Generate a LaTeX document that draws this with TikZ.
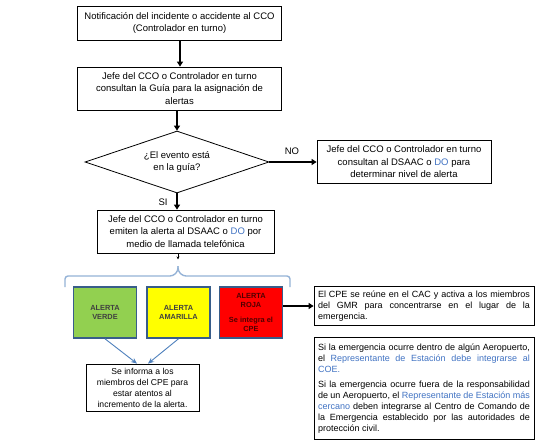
\documentclass[tikz,border=0pt]{standalone}
\usepackage{fontspec}
\setmainfont{Liberation Sans}
\usetikzlibrary{arrows.meta,shapes.geometric,calc}
\definecolor{linkblue}{RGB}{65,115,195}
\definecolor{bracecol}{RGB}{149,179,215}
\definecolor{arrblue}{RGB}{79,129,189}
\definecolor{boxborder}{RGB}{56,93,138}
\definecolor{agreen}{RGB}{146,208,80}
\definecolor{ayellow}{RGB}{255,255,0}
\definecolor{ared}{RGB}{255,0,0}
\definecolor{redtxt}{RGB}{80,0,0}
\tikzset{
  mainbox/.style={draw=black, line width=0.8pt, fill=white, align=center, inner sep=1pt,
    font=\fontsize{9.5}{12.5}\selectfont},
  txtbox/.style={draw=black, line width=0.8pt, fill=white, align=justify, inner sep=4pt,
    text width=212pt, font=\fontsize{9}{11}\selectfont},
  alertbox/.style={draw=boxborder, line width=1.6pt, minimum width=63pt, minimum height=51pt,
    inner sep=1pt, align=center, text=black!75, font=\fontsize{7.4}{9.5}\selectfont\bfseries},
  flow/.style={line width=1.8pt, -{Triangle[length=5pt,width=6pt]}},
  bluearr/.style={arrblue, line width=0.9pt, -{Stealth[length=6pt,width=5pt]}},
  lbl/.style={font=\fontsize{9.5}{11}\selectfont, inner sep=0pt}
}
\begin{document}
\begin{tikzpicture}[x=1pt,y=-1pt]
\useasboundingbox (0,0) rectangle (544,444);
\fill[white] (0,0) rectangle (544,444);

\node[mainbox, minimum width=204pt, minimum height=34pt] (b1) at (179.5,23)
  {Notificación del incidente o accidente al CCO\\(Controlador en turno)};
\node[mainbox, minimum width=204pt, minimum height=43pt] (b2) at (179.5,88.5)
  {Jefe del CCO o Controlador en turno\\consultan la Guía para la asignación de\\alertas};
\node[draw=black, line width=0.8pt, diamond, aspect=3, minimum width=184pt, minimum height=62pt,
  inner sep=0pt, align=center, font=\fontsize{9.5}{11.5}\selectfont] (d) at (177,162)
  {¿El evento está\\en la guía?};
\node[mainbox, minimum width=174pt, minimum height=43pt] (bno) at (404,162)
  {Jefe del CCO o Controlador en turno\\consultan al DSAAC o \textcolor{linkblue}{DO} para\\determinar nivel de alerta};
\node[mainbox, minimum width=177pt, minimum height=43pt] (b3) at (185.5,231.5)
  {Jefe del CCO o Controlador en turno\\emiten la alerta al DSAAC o \textcolor{linkblue}{DO} por\\medio de llamada telefónica};

\node[lbl] (no) at (292,151) {NO};
\node[lbl] (si) at (163,202) {SI};

\draw[flow] (b1.south -| 180,0) -- (b2.north -| 180,0);
\draw[flow] (b2.south -| d.north) -- (d.north);
\draw[flow] (d.east) -- (bno.west |- d.east);
\draw[flow] (d.south) -- (b3.north -| d.south);

% brace
\coordinate (tip) at (178,266);
\draw[line width=0.5pt, -{Stealth[length=3pt,width=3pt]}] (b3.south -| tip) -- ++(0,6);
\draw[bracecol, line width=1.4pt, rounded corners=3pt]
  (65,287) -- (65,276) -- (173,276) -- (178,271) -- (178,266);
\draw[bracecol, line width=1.4pt, rounded corners=3pt]
  (178,266) -- (178,271) -- (183,276) -- (290,276) -- (290,287);

% alert boxes
\node[alertbox, fill=agreen] (g) at (105,312.5) {ALERTA\\VERDE};
\node[alertbox, fill=ayellow] (y) at (178.5,312.5) {ALERTA\\AMARILLA};
\node[alertbox, fill=ared, text=redtxt] (r) at (251,312.5)
  {ALERTA\\ROJA\\[5pt]Se integra el\\CPE};

\node[mainbox, minimum width=113pt, minimum height=47pt, font=\fontsize{8.6}{11}\selectfont] (inf) at (142.5,387.5)
  {Se informa a los\\miembros del CPE para\\estar atentos al\\incremento de la alerta.};
\draw[bluearr] (g.south) -- (inf.north -| 137,0);
\draw[bluearr] (y.south) -- (inf.north -| 148,0);

\node[txtbox, minimum height=37pt] (cpe) at (424,306)
  {El CPE se reúne en el CAC y activa a los miembros\linebreak del GMR para concentrarse en el lugar de la\linebreak emergencia.};
\draw[flow] (r.east |- cpe.west) -- (cpe.west);

\node[txtbox, minimum height=102pt, anchor=north, inner ysep=5pt] (coe) at (424,337)
  {\setlength{\parindent}{0pt}Si la emergencia ocurre dentro de algún Aeropuerto,\linebreak el \textcolor{linkblue}{Representante de Estación debe integrarse al\linebreak COE.}\par\vspace{3.5pt}
  Si la emergencia ocurre fuera de la responsabilidad\linebreak de un Aeropuerto, el \textcolor{linkblue}{Representante de Estación más\linebreak cercano} deben integrarse al Centro de Comando de\linebreak la Emergencia establecido por las autoridades de\linebreak protección civil.\par\vspace{8pt}};
\end{tikzpicture}
\end{document}
